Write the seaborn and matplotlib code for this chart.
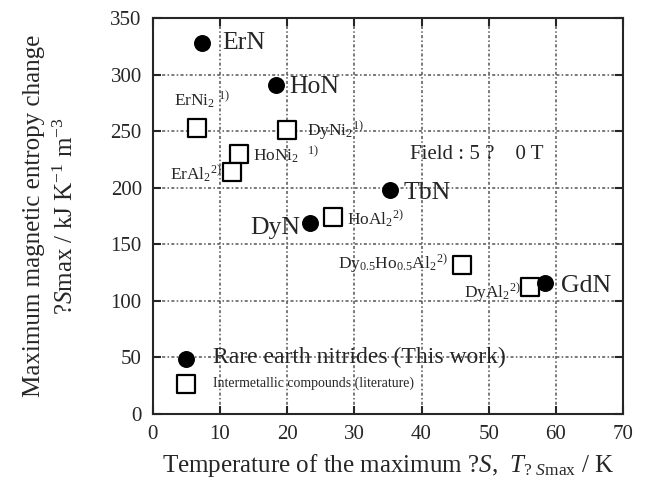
import numpy as np
import pandas as pd
import matplotlib
matplotlib.use("Agg")
import matplotlib.pyplot as plt
import seaborn as sns

# rare earth nitrides (this work)
nitrides = ["ErN", "HoN", "TbN", "DyN", "GdN"]
nitride_T = [7.3, 18.3, 35.3, 23.4, 58.4]
nitride_dS = [328, 291, 198, 169, 116]

# intermetallic compounds (literature)
inter_labels = [r"ErNi$_{2}$ $^{1)}$", r"DyNi$_{2}$$^{1)}$", r"HoNi$_{2}$  $^{1)}$",
                r"ErAl$_{2}$$^{2)}$", r"HoAl$_{2}$$^{2)}$",
                r"Dy$_{0.5}$Ho$_{0.5}$Al$_{2}$$^{2)}$", r"DyAl$_{2}$$^{2)}$"]
inter_T = [6.6, 20.0, 12.8, 11.8, 26.8, 46.0, 56.2]
inter_dS = [253, 251, 230, 214, 174, 132, 112]

df_n = pd.DataFrame({"T": nitride_T, "dS": nitride_dS, "name": nitrides})
df_i = pd.DataFrame({"T": inter_T, "dS": inter_dS, "name": inter_labels})

sns.set_style("ticks")
plt.rcParams["font.family"] = ["Liberation Serif", "DejaVu Serif"]
plt.rcParams["mathtext.fontset"] = "custom"
plt.rcParams["mathtext.rm"] = "Liberation Serif"
plt.rcParams["mathtext.it"] = "Liberation Serif:italic"

fig = plt.figure(figsize=(6.45, 4.91), dpi=100)
ax = fig.add_axes([0.237, 0.157, 0.729, 0.806])

ax.grid(True, color="#555555", linestyle=(0, (2, 1.5, 1, 1.5)), linewidth=1.1)
ax.set_axisbelow(True)

sns.scatterplot(data=df_i, x="T", y="dS", marker="s", s=165, facecolor="white",
                edgecolor="black", linewidth=1.6, ax=ax, zorder=3,
                label="Intermetallic compounds (literature)")
sns.scatterplot(data=df_n, x="T", y="dS", marker="o", s=125, color="black",
                edgecolor="black", linewidth=1, ax=ax, zorder=4,
                label="Rare earth nitrides (This work)")

# label offsets in pixels (dx, dy, ha)
n_off = {"ErN": (20, 0, "left"), "HoN": (13, -2, "left"), "TbN": (14, -3, "left"),
         "DyN": (-10, -5, "right"), "GdN": (16, -3, "left")}
for _, r in df_n.iterrows():
    dx, dy, ha = n_off[r["name"]]
    ax.annotate(r["name"], (r["T"], r["dS"]), xytext=(dx, dy), textcoords="offset pixels",
                ha=ha, va="center", fontsize=18.5, zorder=5)

i_off = [(5, 27, "center"), (20, 0, "left"), (14, -2, "left"), (-10, -2, "right"),
         (14, -2, "left"), (-14, 1, "right"), (-9, -5, "right")]
for (_, r), (dx, dy, ha) in zip(df_i.iterrows(), i_off):
    ax.annotate(r["name"], (r["T"], r["dS"]), xytext=(dx, dy), textcoords="offset pixels",
                ha=ha, va="center", fontsize=12.5, zorder=5)

ax.text(38.3, 229, "Field : 5 ?    0 T", fontsize=15, va="center")

ax.set_xlim(0, 70)
ax.set_ylim(0, 350)
ax.set_xticks(np.arange(0, 71, 10))
ax.set_yticks(np.arange(0, 351, 50))
ax.tick_params(direction="in", length=6, width=1.5, top=True, right=True,
               labelsize=15, pad=8)
for sp in ax.spines.values():
    sp.set_linewidth(1.5)
    sp.set_visible(True)

ax.set_xlabel(r"Temperature of the maximum ?$S$,  $T_{?\ S\mathrm{max}}$ / K", fontsize=18)
ax.xaxis.set_label_coords(0.5, -0.095)
ax.set_ylabel("Maximum magnetic entropy change\n" + r"?$S$max / kJ K$^{-1}$ m$^{-3}$",
              fontsize=18, linespacing=1.45)
ax.yaxis.set_label_coords(-0.16, 0.5)

handles, labels = ax.get_legend_handles_labels()
leg = ax.legend(handles[::-1], labels[::-1], loc="lower left", bbox_to_anchor=(0.02, 0.035),
                frameon=False, handletextpad=0.95, labelspacing=0.65, borderpad=0.2)
leg.get_texts()[0].set_fontsize(17)
leg.get_texts()[1].set_fontsize(10)

fig.savefig("out.png", dpi=100)
